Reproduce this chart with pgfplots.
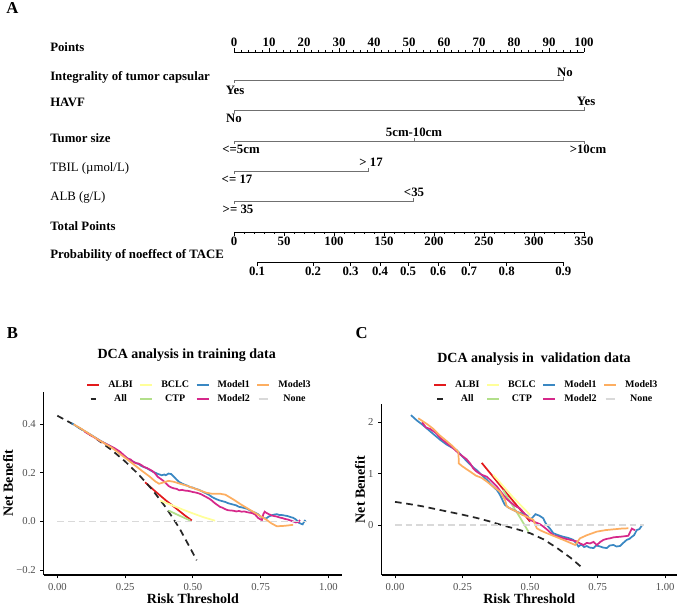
\documentclass[border=0pt]{standalone}
\usepackage{fontspec}
\setmainfont{Liberation Serif}
\usepackage{pgfplots}
\pgfplotsset{compat=1.18}
\definecolor{cALBI}{HTML}{E31A1C}
\definecolor{cBCLC}{HTML}{FFFF99}
\definecolor{cCTP}{HTML}{B2DF8A}
\definecolor{cMa}{HTML}{3A88C3}
\definecolor{cMb}{HTML}{D6288A}
\definecolor{cMc}{HTML}{FDAE61}
\definecolor{cAll}{HTML}{262626}
\definecolor{cNone}{HTML}{D9D9D9}
\definecolor{tickgray}{HTML}{4D4D4D}
\definecolor{nomgray}{HTML}{707070}
\newcommand{\nomfont}{\fontsize{9.6}{10.5}\selectfont\bfseries}
\newcommand{\nomfontr}{\fontsize{9.6}{10.5}\selectfont}
\newcommand{\dcaleg}{%
  \addlegendimage{color=cALBI, line width=1.4pt}\addlegendentry{ALBI}
  \addlegendimage{color=cBCLC, line width=1.4pt}\addlegendentry{BCLC}
  \addlegendimage{color=cMa, line width=1.4pt}\addlegendentry{Model1}
  \addlegendimage{color=cMc, line width=1.4pt}\addlegendentry{Model3}
  \addlegendimage{color=cAll, line width=1.4pt, dash pattern=on 0pt off 2.5pt on 4pt off 10pt}\addlegendentry{All}
  \addlegendimage{color=cCTP, line width=1.4pt}\addlegendentry{CTP}
  \addlegendimage{color=cMb, line width=1.4pt}\addlegendentry{Model2}
  \addlegendimage{color=cNone, line width=1.4pt, dash pattern=on 0pt off 1pt on 7pt off 10pt}\addlegendentry{None}
}
\pgfplotsset{
  cl/.style={line width=1.3pt, forget plot},
  dca/.style={scale only axis, anchor=south west,
    axis x line*=bottom, axis y line*=left,
    axis line style={black, line width=0.9pt, -},
    tick style={black, line width=0.6pt},
    tick align=outside, major tick length=2.5pt,
    xtick={0,0.25,0.5,0.75,1}, xticklabels={0.00,0.25,0.50,0.75,1.00},
    ticklabel style={font=\fontsize{8}{9}\selectfont, text=tickgray},
    xlabel={Risk Threshold}, ylabel={Net Benefit},
    xlabel style={font=\fontsize{10.5}{12}\selectfont\bfseries, anchor=center},
    ylabel style={font=\fontsize{10.5}{12}\selectfont\bfseries, anchor=center},
    legend columns=4,
    legend image code/.code={\draw[##1] (0pt,0pt) -- (9pt,0pt);},
    legend style={draw=none, fill=none, anchor=north west, inner sep=0pt,
      font=\fontsize{7.5}{8.5}\selectfont\bfseries, row sep=2pt,
      nodes={inner sep=1pt},
      /tikz/every odd column/.append style={column sep=5pt},
      /tikz/every even column/.append style={column sep=4pt}},
  },
}
\begin{document}
\begin{tikzpicture}
\path[use as bounding box] (0,0) rectangle (507.75pt,454.5pt);
% ---------------- Nomogram (pixel frame) ----------------
\begin{axis}[at={(0pt,0pt)}, anchor=south west, scale only axis,
  width=507.75pt, height=454.5pt, xmin=0, xmax=677, ymin=0, ymax=606,
  y dir=reverse, hide axis, clip=false]
\node[font=\fontsize{12.5}{13}\selectfont\bfseries] at (12.5,8) {A};
\node[font=\fontsize{12.5}{13}\selectfont\bfseries] at (12.5,333) {B};
\node[font=\fontsize{12.5}{13}\selectfont\bfseries] at (361.7,333) {C};
\node[font=\fontsize{10.5}{12}\selectfont\bfseries] at (186.7,355) {DCA analysis in training data};
\node[font=\fontsize{10.5}{12}\selectfont\bfseries] at (534,359) {DCA analysis in~ validation data};
% row labels
\begin{scope}[every node/.style={anchor=west, inner sep=0pt}]
\node[font=\nomfont] at (50,47) {Points};
\node[font=\nomfont] at (50,77) {Integrality of tumor capsular};
\node[font=\nomfont] at (50,102) {HAVF};
\node[font=\nomfont] at (50,138) {Tumor size};
\node[font=\nomfontr] at (50,168) {TBIL (µmol/L)};
\node[font=\nomfontr] at (50,197) {ALB (g/L)};
\node[font=\nomfont] at (50,226) {Total Points};
\node[font=\nomfont] at (50,255) {Probability of noeffect of TACE};
\end{scope}
% Points scale
\addplot[black, line width=0.5pt] coordinates {(234,52) (584,52)};
\addplot[only marks, mark=|, mark size=1.5pt, mark options={line width=0.5pt, black}] coordinates {(234,50) (269,50) (304,50) (339,50) (374,50) (409,50) (444,50) (479,50) (514,50) (549,50) (584,50)};
\addplot[only marks, mark=|, mark size=0.75pt, mark options={line width=0.5pt, black}] coordinates {(241,51) (248,51) (255,51) (262,51) (276,51) (283,51) (290,51) (297,51) (311,51) (318,51) (325,51) (332,51) (346,51) (353,51) (360,51) (367,51) (381,51) (388,51) (395,51) (402,51) (416,51) (423,51) (430,51) (437,51) (451,51) (458,51) (465,51) (472,51) (486,51) (493,51) (500,51) (507,51) (521,51) (528,51) (535,51) (542,51) (556,51) (563,51) (570,51) (577,51)};
\begin{scope}[every node/.style={font=\nomfont, inner sep=0pt}]
\node at (234,42) {0}; \node at (269,42) {10}; \node at (304,42) {20};
\node at (339,42) {30}; \node at (374,42) {40}; \node at (409,42) {50};
\node at (444,42) {60}; \node at (479,42) {70}; \node at (514,42) {80};
\node at (549,42) {90}; \node at (584,42) {100};
% variable labels
\node at (235,90) {Yes}; \node at (565,72) {No};
\node at (234,118) {No}; \node at (586,101) {Yes};
\node at (241,149) {<=5cm}; \node at (414,132) {5cm-10cm}; \node at (588,149) {>10cm};
\node at (237,179) {<= 17}; \node at (371,162) {> 17};
\node at (238,209.5) {>= 35}; \node at (414,192) {<35};
% total points labels
\node at (234,241) {0}; \node at (284,241) {50}; \node at (334,241) {100};
\node at (384,241) {150}; \node at (434,241) {200}; \node at (484,241) {250};
\node at (534,241) {300}; \node at (584,241) {350};
% probability labels
\node at (257,271) {0.1}; \node at (313,271) {0.2}; \node at (350.5,271) {0.3};
\node at (380,271) {0.4}; \node at (408,271) {0.5}; \node at (438,271) {0.6};
\node at (469,271) {0.7}; \node at (506.7,271) {0.8}; \node at (563.3,271) {0.9};
\end{scope}
% variable lines
\addplot[nomgray, line width=0.5pt] coordinates {(234,83) (234,80) (563.7,80) (563.7,77)};
\addplot[nomgray, line width=0.5pt] coordinates {(234,113) (234,110) (584,110) (584,107)};
\addplot[nomgray, line width=0.5pt] coordinates {(234,144) (234,141) (584,141) (584,144)};
\addplot[nomgray, line width=0.5pt] coordinates {(414,141) (414,138)};
\addplot[nomgray, line width=0.5pt] coordinates {(234,174) (234,171) (368,171) (368,168)};
\addplot[nomgray, line width=0.5pt] coordinates {(234,204) (234,201) (413,201) (413,198)};
% Total points scale
\addplot[black, line width=0.5pt] coordinates {(234,232) (584,232)};
\addplot[only marks, mark=|, mark size=1.5pt, mark options={line width=0.5pt, black}] coordinates {(234,234) (284,234) (334,234) (384,234) (434,234) (484,234) (534,234) (584,234)};
\addplot[only marks, mark=|, mark size=0.75pt, mark options={line width=0.5pt, black}] coordinates {(244,233) (254,233) (264,233) (274,233) (294,233) (304,233) (314,233) (324,233) (344,233) (354,233) (364,233) (374,233) (394,233) (404,233) (414,233) (424,233) (444,233) (454,233) (464,233) (474,233) (494,233) (504,233) (514,233) (524,233) (544,233) (554,233) (564,233) (574,233)};
% Probability scale
\addplot[black, line width=0.5pt] coordinates {(257,262) (563.3,262)};
\addplot[only marks, mark=|, mark size=1.5pt, mark options={line width=0.5pt, black}] coordinates {(257,264) (313,264) (350.5,264) (380,264) (408,264) (438,264) (469,264) (506.7,264) (563.3,264)};
\end{axis}
% ---------------- B: training ----------------
\begin{axis}[dca, at={(32.85pt,23.25pt)}, width=223.6pt, height=137.5pt,
  xmin=-0.05, xmax=1.05, ymin=-0.2205, ymax=0.534,
  ytick={-0.2,0,0.2,0.4}, yticklabels={−0.2,0.0,0.2,0.4},
  xlabel style={at={(axis description cs:0.5,-0.131)}},
  ylabel style={at={(axis description cs:-0.12,0.5)}},
  legend style={at={(0.142,1.069)}}]
\dcaleg
% ALBI
\addplot[cl, color=cALBI] coordinates {(0.324,0.161) (0.36,0.125) (0.40,0.087) (0.44,0.052) (0.47,0.025) (0.496,0.004)};
% All
\addplot[cl, color=cAll, dash pattern=on 5pt off 3.5pt] coordinates {(0,0.435) (0.05,0.405) (0.1,0.372) (0.15,0.335) (0.2,0.294) (0.25,0.247) (0.3,0.193) (0.35,0.131) (0.4,0.058) (0.45,-0.027) (0.5,-0.13) (0.514,-0.16)};
% BCLC
\addplot[cl, color=cBCLC] coordinates {(0.379,0.086) (0.42,0.068) (0.46,0.050) (0.50,0.033) (0.54,0.017) (0.582,0.003)};
% CTP
\addplot[cl, color=cCTP] coordinates {(0.41,0.045) (0.45,0.024) (0.49,0.004)};
% Model1
\addplot[cl, color=cMa] coordinates {(0.053,0.404) (0.08,0.385) (0.10,0.372) (0.13,0.352) (0.16,0.331) (0.19,0.313) (0.21,0.300) (0.23,0.283) (0.25,0.266) (0.27,0.252) (0.29,0.240) (0.30,0.236) (0.31,0.228) (0.33,0.219) (0.35,0.206) (0.37,0.196) (0.385,0.190) (0.395,0.193) (0.40,0.190) (0.41,0.197) (0.42,0.195) (0.43,0.184) (0.44,0.172) (0.45,0.162) (0.46,0.156) (0.47,0.151) (0.48,0.147) (0.49,0.141) (0.50,0.139) (0.51,0.134) (0.52,0.131) (0.53,0.126) (0.54,0.120) (0.55,0.115) (0.56,0.109) (0.57,0.101) (0.58,0.095) (0.59,0.090) (0.60,0.086) (0.61,0.083) (0.62,0.080) (0.63,0.075) (0.64,0.072) (0.65,0.069) (0.66,0.066) (0.67,0.060) (0.68,0.058) (0.69,0.055) (0.70,0.052) (0.71,0.046) (0.72,0.040) (0.73,0.036) (0.74,0.030) (0.75,0.020) (0.76,0.014) (0.77,0.012) (0.78,0.020) (0.79,0.025) (0.80,0.028) (0.81,0.030) (0.82,0.026) (0.83,0.026) (0.84,0.024) (0.85,0.022) (0.86,0.018) (0.87,0.015) (0.88,0.008) (0.885,0.002) (0.89,-0.005) (0.90,-0.010) (0.905,-0.012) (0.91,-0.002) (0.915,0.006)};
% Model2
\addplot[cl, color=cMb] coordinates {(0.10,0.370) (0.13,0.350) (0.16,0.330) (0.19,0.313) (0.21,0.302) (0.23,0.288) (0.25,0.268) (0.26,0.258) (0.27,0.255) (0.28,0.245) (0.29,0.240) (0.30,0.238) (0.31,0.232) (0.32,0.224) (0.33,0.220) (0.34,0.214) (0.35,0.208) (0.36,0.198) (0.37,0.184) (0.38,0.176) (0.39,0.168) (0.40,0.158) (0.41,0.146) (0.42,0.140) (0.43,0.136) (0.44,0.134) (0.45,0.128) (0.46,0.130) (0.47,0.127) (0.48,0.126) (0.49,0.124) (0.50,0.121) (0.51,0.119) (0.52,0.116) (0.53,0.112) (0.54,0.106) (0.55,0.100) (0.56,0.094) (0.57,0.086) (0.58,0.076) (0.59,0.068) (0.60,0.060) (0.61,0.056) (0.62,0.050) (0.63,0.046) (0.64,0.045) (0.65,0.044) (0.66,0.041) (0.67,0.043) (0.68,0.040) (0.69,0.041) (0.70,0.038) (0.71,0.036) (0.72,0.034) (0.73,0.028) (0.74,0.015) (0.75,0.008) (0.755,0.006) (0.76,0.030) (0.765,0.040) (0.77,0.036) (0.78,0.030) (0.79,0.025) (0.80,0.022) (0.81,0.020) (0.82,0.016) (0.83,0.014) (0.84,0.010) (0.85,0.008) (0.86,0.004) (0.87,0.000) (0.88,-0.004) (0.89,-0.002) (0.895,0.006)};
% Model3
\addplot[cl, color=cMc] coordinates {(0.06,0.400) (0.10,0.373) (0.15,0.337) (0.20,0.304) (0.25,0.262) (0.28,0.236) (0.31,0.210) (0.34,0.185) (0.36,0.166) (0.375,0.155) (0.39,0.160) (0.41,0.167) (0.43,0.163) (0.45,0.156) (0.48,0.146) (0.50,0.138) (0.53,0.126) (0.55,0.118) (0.57,0.114) (0.60,0.114) (0.62,0.110) (0.65,0.090) (0.68,0.068) (0.71,0.048) (0.74,0.028) (0.77,0.008) (0.79,-0.008) (0.81,-0.020) (0.84,-0.018) (0.87,-0.014)};
% None
\addplot[cl, color=cNone, dash pattern=on 5pt off 3pt] coordinates {(0,0) (0.92,0)};
\end{axis}
% ---------------- C: validation ----------------
\begin{axis}[dca, at={(286.125pt,23.25pt)}, width=221.625pt, height=128.25pt,
  xmin=-0.05, xmax=1.044, ymin=-0.975, ymax=2.357,
  ytick={0,1,2}, yticklabels={0,1,2},
  xlabel style={at={(axis description cs:0.5,-0.140)}},
  ylabel style={at={(axis description cs:-0.073,0.5)}},
  legend style={at={(0.174,1.146)}}]
\dcaleg
% ALBI
\addplot[cl, color=cALBI] coordinates {(0.321,1.21) (0.36,0.96) (0.40,0.70) (0.44,0.45) (0.47,0.26) (0.50,0.065)};
% All
\addplot[cl, color=cAll, dash pattern=on 5pt off 3.5pt] coordinates {(0,0.45) (0.05,0.41) (0.10,0.365) (0.15,0.31) (0.20,0.255) (0.25,0.20) (0.30,0.14) (0.35,0.07) (0.40,-0.01) (0.45,-0.08) (0.50,-0.16) (0.55,-0.28) (0.60,-0.45) (0.65,-0.64) (0.69,-0.82)};
% BCLC
\addplot[cl, color=cBCLC] coordinates {(0.364,0.975) (0.40,0.76) (0.44,0.52) (0.47,0.36) (0.50,0.195)};
% CTP
\addplot[cl, color=cCTP] coordinates {(0.40,0.68) (0.43,0.42) (0.46,0.17) (0.494,-0.13)};
% Model1
\addplot[cl, color=cMa] coordinates {(0.059,2.14) (0.08,2.04) (0.10,1.96) (0.12,1.87) (0.14,1.78) (0.167,1.66) (0.19,1.57) (0.21,1.51) (0.228,1.46) (0.25,1.33) (0.27,1.22) (0.29,1.12) (0.302,1.07) (0.32,0.98) (0.34,0.88) (0.352,0.81) (0.365,0.74) (0.377,0.68) (0.385,0.62) (0.395,0.52) (0.40,0.46) (0.407,0.39) (0.42,0.34) (0.435,0.30) (0.45,0.26) (0.465,0.23) (0.48,0.21) (0.49,0.18) (0.50,0.10) (0.51,0.15) (0.52,0.21) (0.535,0.18) (0.549,0.13) (0.555,0.06) (0.562,0.0) (0.575,-0.08) (0.586,-0.16) (0.60,-0.19) (0.623,-0.23) (0.64,-0.25) (0.66,-0.29) (0.67,-0.35) (0.679,-0.42) (0.69,-0.38) (0.70,-0.43) (0.71,-0.41) (0.72,-0.44) (0.735,-0.45) (0.745,-0.40) (0.76,-0.42) (0.77,-0.44) (0.784,-0.45) (0.795,-0.40) (0.809,-0.39) (0.82,-0.42) (0.833,-0.41) (0.845,-0.35) (0.858,-0.29) (0.868,-0.27) (0.877,-0.23) (0.885,-0.20) (0.895,-0.10) (0.905,-0.08) (0.915,0.0)};
% Model2
\addplot[cl, color=cMb] coordinates {(0.10,2.00) (0.115,1.90) (0.13,1.87) (0.15,1.80) (0.167,1.70) (0.19,1.60) (0.21,1.52) (0.235,1.40) (0.25,1.34) (0.265,1.28) (0.278,1.20) (0.29,1.10) (0.302,1.04) (0.32,0.98) (0.34,0.94) (0.36,0.84) (0.377,0.75) (0.39,0.66) (0.401,0.585) (0.415,0.50) (0.426,0.45) (0.445,0.37) (0.463,0.32) (0.48,0.22) (0.50,0.10) (0.52,0.05) (0.535,0.02) (0.549,-0.03) (0.565,-0.10) (0.586,-0.20) (0.60,-0.22) (0.623,-0.26) (0.648,-0.29) (0.673,-0.32) (0.685,-0.36) (0.698,-0.39) (0.71,-0.35) (0.722,-0.36) (0.735,-0.33) (0.747,-0.39) (0.76,-0.33) (0.772,-0.29) (0.785,-0.27) (0.796,-0.26) (0.81,-0.24) (0.833,-0.23) (0.85,-0.22) (0.864,-0.21) (0.872,-0.12) (0.877,-0.07) (0.883,-0.09) (0.889,-0.10)};
% Model3
\addplot[cl, color=cMc] coordinates {(0.086,2.08) (0.10,2.03) (0.12,1.96) (0.14,1.88) (0.167,1.74) (0.19,1.64) (0.21,1.55) (0.235,1.42) (0.236,1.20) (0.25,1.14) (0.278,1.04) (0.30,0.96) (0.32,0.92) (0.34,0.845) (0.36,0.76) (0.389,0.65) (0.40,0.55) (0.407,0.49) (0.414,0.36) (0.43,0.31) (0.45,0.26) (0.47,0.20) (0.488,0.16) (0.50,0.13) (0.512,0.10) (0.525,-0.065) (0.54,-0.11) (0.562,-0.16) (0.59,-0.22) (0.623,-0.29) (0.645,-0.34) (0.667,-0.39) (0.675,-0.33) (0.685,-0.26) (0.71,-0.20) (0.747,-0.13) (0.78,-0.10) (0.809,-0.085) (0.84,-0.07) (0.864,-0.065)};
% None
\addplot[cl, color=cNone, dash pattern=on 5pt off 3pt] coordinates {(0,0) (0.92,0)};
\end{axis}
\end{tikzpicture}
\end{document}
